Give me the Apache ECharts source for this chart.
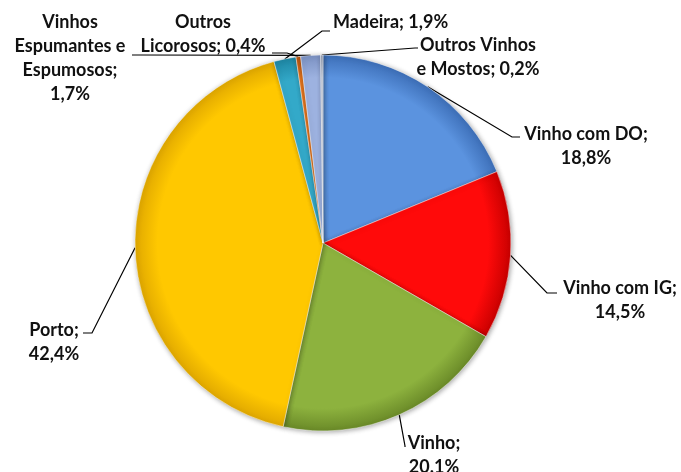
<!DOCTYPE html>
<html>
<head>
<meta charset="utf-8">
<script src="https://cdn.jsdelivr.net/npm/echarts@6/dist/echarts.min.js"></script>
<style>
  html, body { margin: 0; padding: 0; background: #fff; }
  #chart { width: 681px; height: 472px; }
</style>
</head>
<body>
<div id="chart"></div>
<script>
// categorias e valores (%)
var categorias = ['Vinho com DO', 'Vinho com IG', 'Vinho', 'Porto', 'Madeira',
  'Outros Licorosos', 'Vinhos Espumantes e Espumosos', 'Outros Vinhos e Mostos'];
var valores = [18.8, 14.5, 20.1, 42.4, 1.9, 0.4, 1.7, 0.2];
// texto dos rótulos tal como aparece no gráfico
var rotulos = ['Vinho com DO;\n18,8%', 'Vinho com IG;\n14,5%', 'Vinho;\n20.1%', 'Porto;\n42,4%',
  'Madeira; 1,9%', 'Outros\nLicorosos; 0,4%', 'Vinhos\nEspumantes e\nEspumosos;\n1,7%',
  'Outros Vinhos\ne Mostos; 0,2%'];

var cores = ['#5b93df', '#ff0a0a', '#8db23e', '#ffc800', '#33a9c9', '#e8761c', '#9db2e0', '#b9c2d4'];
var coresEscuras = ['#3d6fb8', '#c80000', '#6a8a28', '#e0a800', '#1e86a3', '#b85510', '#7b91c2', '#8e98ad'];

var cx = 323, cy = 243, raio = 188;

// posição dos rótulos: [x, y, align, cotovelo, fim]
var posRotulos = [
  [586, 146, 'center', [512, 137], [520, 137]],
  [620, 300, 'center', [547, 293], [557, 293]],
  [434, 455, 'center', [405, 446], [405, 447]],
  [54, 342, 'center', [92, 333], [83, 333]],
  [333, 22, 'left', [322, 31], [330, 31]],
  [203, 34, 'center', [287, 53], [272, 53]],
  [70, 58, 'center', [140, 55], [132, 55]],
  [478, 57, 'center', [415, 48], [418, 48]]
];

var chart = echarts.init(document.getElementById('chart'));

var dados = categorias.map(function (c, i) {
  return {
    name: c,
    value: valores[i],
    itemStyle: {
      color: {
        type: 'radial', x: cx, y: cy, r: raio, global: true,
        colorStops: [
          { offset: 0, color: cores[i] },
          { offset: 0.88, color: cores[i] },
          { offset: 1, color: coresEscuras[i] }
        ]
      }
    }
  };
});

chart.setOption({
  backgroundColor: '#fff',
  animation: false,
  series: [{
    type: 'pie',
    center: [cx, cy],
    radius: raio,
    startAngle: 90,
    clockwise: true,
    avoidLabelOverlap: false,
    data: dados,
    itemStyle: {
      borderColor: 'rgba(255,255,255,0.45)',
      borderWidth: 1,
      shadowBlur: 5,
      shadowColor: 'rgba(0,0,0,0.35)',
      shadowOffsetX: 1,
      shadowOffsetY: 1
    },
    label: {
      show: true,
      position: 'outside',
      formatter: function (p) { return rotulos[p.dataIndex]; },
      fontFamily: 'Lato',
      fontWeight: 'bold',
      fontSize: 18,
      lineHeight: 24,
      color: '#111'
    },
    labelLine: {
      show: true,
      length: 10,
      length2: 10,
      lineStyle: { color: '#000', width: 1.2 }
    },
    labelLayout: function (params) {
      var i = params.dataIndex;
      var p = posRotulos[i];
      var inicio = params.labelLinePoints ? params.labelLinePoints[0] : [cx, cy];
      return {
        x: p[0],
        y: p[1],
        align: p[2],
        verticalAlign: 'middle',
        labelLinePoints: [inicio, p[3], p[4]]
      };
    }
  }]
});
</script>
</body>
</html>
